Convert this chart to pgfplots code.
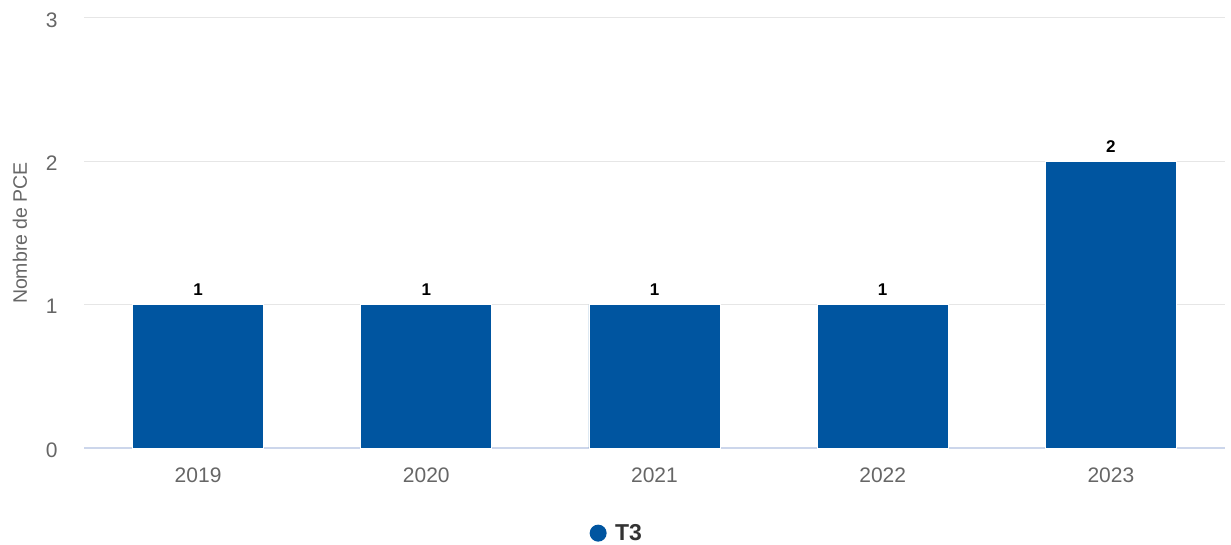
\documentclass[border=0pt]{standalone}
\usepackage{pgfplots}
\pgfplotsset{compat=1.18}
\usepackage{fontspec}
\setmainfont{Liberation Sans}
\definecolor{barblue}{HTML}{0055A0}
\definecolor{gridgray}{HTML}{E6E6E6}
\definecolor{axisline}{HTML}{CCD6EB}
\definecolor{txtgray}{HTML}{666666}
\definecolor{legtxt}{HTML}{333333}
\begin{document}
\begin{tikzpicture}
\useasboundingbox (0,0) rectangle (1231bp,545bp);
\begin{axis}[
  at={(84bp,97bp)}, anchor=south west,
  scale only axis,
  width=1141bp, height=430bp,
  xmin=-0.5, xmax=4.5,
  ymin=0, ymax=3,
  ytick={0,1,2,3},
  xtick={0,1,2,3,4},
  xticklabels={2019,2020,2021,2022,2023},
  axis x line*=bottom,
  axis y line*=left,
  x axis line style={draw=axisline, line width=1.5bp, -},
  y axis line style={draw=none},
  ymajorgrids,
  grid style={draw=gridgray, line width=1bp},
  major tick length=0pt,
  tick style={draw=none},
  ticklabel style={font=\fontsize{21bp}{24bp}\selectfont, text=txtgray},
  /pgf/number format/assume math mode=true,
  xticklabel style={yshift=-16bp},
  yticklabel style={xshift=-23bp, yshift=-2bp},
  ylabel={Nombre de PCE},
  every axis y label/.style={at={(axis description cs:0,0.5)}, xshift=-64bp, rotate=90, anchor=center,
    font=\fontsize{19.5bp}{22bp}\selectfont, text=txtgray},
  legend style={at={(axis description cs:0.467,-0.198)}, anchor=center, draw=none, fill=none,
    font=\fontsize{23bp}{26bp}\selectfont\bfseries, text=legtxt},
  legend image code/.code={\fill[barblue, draw=none] (0bp,0bp) circle (8.5bp); \path[draw=none, fill=none] (-8.5bp,0bp) -- (15bp,0bp);},
  nodes near coords,
  nodes near coords style={font=\fontsize{17bp}{20bp}\selectfont\bfseries, text=black, anchor=south, yshift=5bp},
  clip=false,
]
\addplot[ybar, bar width=131bp, fill=barblue, draw=white, line width=0.8bp] coordinates {
  (0,1) (1,1) (2,1) (3,1) (4,2)
};
\addlegendentry{T3}
\end{axis}
\end{tikzpicture}
\end{document}
